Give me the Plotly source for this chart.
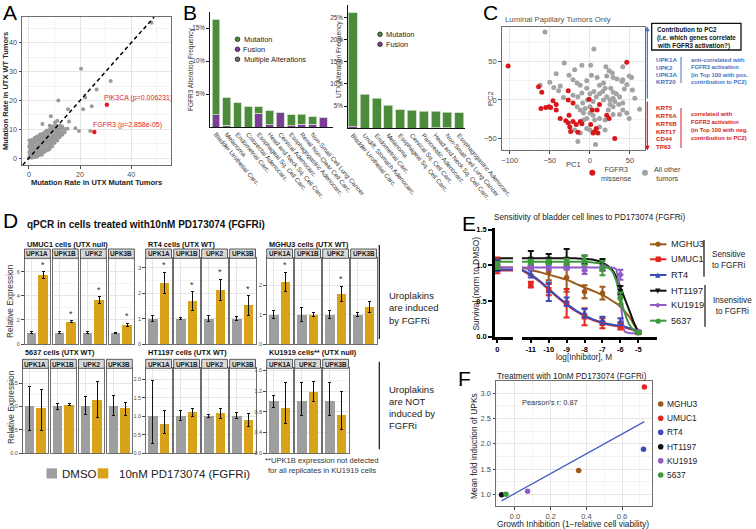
import numpy as np
import plotly.graph_objects as go

W, H = 756, 529
FONT = "Liberation Sans, Arial, Helvetica, sans-serif"

# ======================= DATA =======================
# ---- A: mutation rate in UTX mutant vs UTX WT tumors ----
A_CLOUD_PTS = [
    (0.1, 0.2), (0.3, 1.1), (0.2, 2.0), (0.4, 3.2), (0.1, 4.1), (0.5, 5.0), (0.2, 6.1),
    (1.1, 0.1), (1.2, 1.2), (0.9, 2.1), (1.3, 3.0), (1.0, 4.2), (1.2, 5.1), (1.1, 6.3),
    (2.0, 0.3), (2.2, 1.0), (1.9, 2.2), (2.1, 3.1), (2.3, 4.0), (1.8, 5.2), (2.0, 6.1), (2.2, 7.0),
    (3.1, 0.5), (2.9, 1.6), (3.2, 2.4), (3.0, 3.5), (3.3, 4.6), (2.8, 5.4), (3.1, 6.6), (3.0, 7.4),
    (4.0, 1.0), (4.2, 2.1), (3.9, 3.0), (4.1, 4.1), (4.3, 5.0), (3.8, 6.2), (4.0, 7.1), (4.2, 8.1),
    (5.1, 1.2), (4.9, 2.0), (5.2, 3.1), (5.0, 4.0), (5.3, 5.1), (4.8, 6.0), (5.1, 7.2), (5.0, 8.4),
    (6.0, 2.1), (6.2, 3.0), (5.9, 4.2), (6.1, 5.0), (6.3, 6.1), (5.8, 7.0), (6.0, 8.2), (6.1, 9.0),
    (7.1, 2.6), (6.9, 3.4), (7.2, 4.6), (7.0, 5.5), (7.3, 6.4), (6.8, 7.6), (7.1, 8.5), (7.0, 9.6),
    (8.0, 3.1), (8.2, 4.0), (7.9, 5.2), (8.1, 6.0), (8.3, 7.1), (7.8, 8.0), (8.0, 9.1), (8.2, 10.0), (8.1, 11.2),
    (9.1, 4.0), (8.9, 5.1), (9.2, 6.0), (9.0, 7.2), (9.3, 8.0), (8.8, 9.1), (9.1, 10.2), (9.0, 11.0),
    (10.0, 5.2), (10.2, 6.0), (9.9, 7.1), (10.1, 8.0), (10.3, 9.2), (9.8, 10.0), (10.0, 11.1), (10.2, 12.4),
    (11.1, 6.1), (10.9, 7.0), (11.2, 8.2), (11.0, 9.0), (11.3, 10.1), (10.9, 11.2), (11.1, 13.0),
    (12.0, 7.2), (12.2, 8.0), (11.9, 9.1), (12.1, 10.0), (12.3, 11.2),
    (13.1, 8.1), (12.9, 9.0), (13.2, 10.2), (13.0, 11.0),
    (14.0, 9.0), (14.2, 10.1),
    (15.1, 10.2),
]
A_OTHER_X = [48, 20.4, 32, 26.5, 11.5, 24.6, 22, 21.2, 15.3, 15.7, 18.2, 19.6, 24, 8.6, 5.3]
A_OTHER_Y = [47, 31, 26.8, 23.8, 20, 18, 21, 17, 17, 12.7, 10.4, 9.4, 9.4, 14.5, 11.8]
A_HIGHLIGHT_GENES = ["PIK3CA", "FGFR3"]
A_HIGHLIGHT_P = ["0.006231", "2.858e-05"]
A_HIGHLIGHT_X = [30.5, 25.6]
A_HIGHLIGHT_Y = [18.5, 9.1]

# ---- B: alteration frequencies ----
B_FGFR3_CATS = ["Bladder Urothelial Carc.", "Melanoma", "Endometrial Carc.", "Colorectal Adenocarc.",
                "Esophageal Sq. Cell Carc.", "Head and Neck Sq. Cell Carc.", "Cervical Adenocarc.",
                "Esophagogastric Adenocarc.", "Renal Non-Clear Cell Carc.", "Non-Small Cell Lung Cancer", " "]
B_FGFR3_MUT = [14.4, 4.2, 3.7, 3.1, 1.0, 2.15, 0.0, 1.7, 1.47, 1.1, 0.0]
B_FGFR3_FUS = [1.9, 0.0, 0.0, 0.0, 2.1, 0.35, 2.2, 0.2, 0.5, 0.5, 1.5]
B_FGFR3_MULTI = [0.0, 0.3, 0.0, 0.0, 0.0, 0.0, 0.0, 0.0, 0.0, 0.0, 0.0]
B_UTX_CATS = ["Bladder Urothelial Carc.", "Undiff. Stomach Adenocarc.", "Endometrial Carc.", "Melanoma",
              "Esophageal Sq. Cell Carc.", "Cervical Sq. Cell Carc.", "Pancreatic Adenocarc.",
              "Head and Neck Sq. Cell Carc.", "Non-Small Cell Lung Cancer", "Esophagogastric Adenocarc."]
B_UTX_MUT = [25.8, 7.65, 6.75, 5.2, 4.2, 4.05, 3.9, 3.65, 3.45, 3.55]
B_UTX_FUS = [0.3, 0.0, 0.0, 0.0, 0.0, 0.0, 0.0, 0.15, 0.15, 0.0]
B_LEGEND_FGFR3 = ["Mutation", "Fusion", "Multiple Alterations"]
B_LEGEND_UTX = ["Mutation", "Fusion"]

# ---- C: PCA of luminal papillary tumors ----
C_FGFR3_MISSENSE = [(-102, 44), (46, 49), (-64, 17), (-60, 10), (-27, 12), (-49, -10), (-46, -1), (-61, -11),
                    (-55, -10), (-51, -9), (-42, -13), (-42, -6), (-27, 0), (-21, -4), (-26, -20), (-1, 1),
                    (3, -13), (12, -6), (9, -13), (-30, -27), (-27, -30), (-25, -35), (-21, -28), (-17, -32),
                    (-12, -28), (-10, -31), (-24, -41), (-15, -42), (4, -43), (8, -37), (10, -43), (6, -41),
                    (21, -20), (24, -24), (31, -50), (1, -32), (-37, -24)]
C_OTHER = [(-56, 88), (5, 66), (-32, 48), (-10, 45), (1, 45), (-19, 39), (-42, 34), (-26, 32), (-62, 19),
           (-50, 23), (-45, 16), (-39, 12), (-37, 18), (-21, 26), (-16, 22), (-12, 19), (-4, 25), (2, 32),
           (9, 29), (12, 19), (17, 22), (21, 31), (20, 43), (24, 38), (29, 29), (34, 27), (40, 24), (43, 14),
           (52, 29), (49, 31), (41, 26), (46, 20), (53, 13), (56, 2), (62, -12), (41, -4), (37, 4), (33, 8),
           (29, 2), (25, 0), (21, 4), (17, 0), (31, -2), (36, -6), (41, -13), (46, -17), (49, -24), (37, -19),
           (29, -19), (23, -13), (19, -26), (12, -24), (4, -20), (6, -26), (0, -17), (-4, -24), (-8, -17),
           (-6, -11), (-12, -13), (-16, -9), (-9, -4), (-3, 0), (4, -2), (8, 4), (5, 11), (0, 8), (12, 8),
           (16, 11), (19, 15), (26, 15), (29, 10), (-4, 15), (-10, 9), (-15, 4), (-21, 6), (-33, 3), (-15, -54),
           (7, -58), (-4, -37), (-8, -26), (0, -39), (19, -39), (12, -35), (-12, -43), (-19, -39), (29, -9),
           (25, -6), (0, -9), (41, 43), (28, 35)]
C_GROUPS = ["FGFR3<br>missense", "All other<br>tumors"]
C_UP_GENES = ["UPK1A", "UPK2", "UPK3A", "KRT20"]
C_DOWN_GENES = ["KRT5", "KRT6A", "KRT6B", "KRT17", "CD44", "TP63"]

# ---- D: qPCR ----
D_GENES = ["UPK1A", "UPK1B", "UPK2", "UPK3B"]
D_GENES_KU1919 = ["UPK1A", "UPK2", "UPK3B"]
D_CONDITIONS = ["DMSO", "10nM PD173074 (FGFRi)"]
UMUC1_DMSO = [0.95, 0.95, 0.95, 0.95]
UMUC1_DMSO_ERR = [0.06, 0.05, 0.05, 0.04]
UMUC1_FGFRI = [5.7, 1.85, 3.65, 1.6]
UMUC1_FGFRI_ERR = [0.28, 0.08, 0.28, 0.13]
UMUC1_SIG = [True, True, True, True]
RT4_DMSO = [1.0, 1.0, 1.0, 1.0]
RT4_DMSO_ERR = [0.12, 0.03, 0.12, 0.08]
RT4_FGFRI = [2.4, 1.68, 2.12, 1.52]
RT4_FGFRI_ERR = [0.42, 0.37, 0.42, 0.38]
RT4_SIG = [True, True, True, True]
MGHU3_DMSO = [1.0, 1.0, 1.0, 1.0]
MGHU3_DMSO_ERR = [0.13, 0.23, 0.14, 0.08]
MGHU3_FGFRI = [2.12, 1.0, 1.7, 1.25]
MGHU3_FGFRI_ERR = [0.32, 0.06, 0.26, 0.19]
MGHU3_SIG = [True, False, True, False]
C5637_DMSO = [1.0, 1.0, 1.0, 1.0]
C5637_DMSO_UP = [0.43, 0.07, 0.22, 0.23]
C5637_DMSO_DN = [0.51, 0.07, 0.18, 0.20]
C5637_FGFRI = [0.96, 1.04, 1.14, 0.97]
C5637_FGFRI_UP = [0.40, 0.02, 0.40, 0.12]
C5637_FGFRI_DN = [0.48, 0.02, 0.37, 0.17]
HT1197_DMSO = [1.0, 1.0, 1.0, 1.0]
HT1197_DMSO_UP = [0.96, 0.16, 0.04, 0.09]
HT1197_DMSO_DN = [0.75, 0.12, 0.03, 0.07]
HT1197_FGFRI = [0.80, 1.11, 1.09, 0.89]
HT1197_FGFRI_UP = [0.35, 0.11, 0.13, 0.18]
HT1197_FGFRI_DN = [0.26, 0.13, 0.14, 0.18]
KU1919_DMSO = [1.0, 1.0, 1.0]
KU1919_DMSO_UP = [0.12, 0.36, 0.36]
KU1919_DMSO_DN = [0.11, 0.28, 0.28]
KU1919_FGFRI = [0.88, 1.18, 0.73]
KU1919_FGFRI_UP = [0.49, 0.21, 0.47]
KU1919_FGFRI_DN = [0.31, 0.18, 0.28]

# ---- E: dose response ----
E_LINES = ["MGHU3", "UMUC1", "RT4", "HT1197", "KU1919", "5637"]
E_DOSES = [-11, -10, -9, -8, -7, -6, -5]
E_MGHU3 = [0.96, 0.91, 0.83, 0.63, 0.61, 0.54, 0.06]
E_MGHU3_ERR = [0.10, 0.12, 0.20, 0.09, 0.09, 0.08, 0.02]
E_UMUC1 = [0.73, 0.66, 0.47, 0.28, 0.19, 0.15, 0.06]
E_UMUC1_ERR = [0.04, 0.08, 0.20, 0.12, 0.07, 0.05, 0.02]
E_RT4 = [0.88, 0.63, 0.49, 0.33, 0.23, 0.21, 0.06]
E_RT4_ERR = [0.05, 0.13, 0.06, 0.06, 0.05, 0.05, 0.02]
E_HT1197 = [1.10, 1.10, 1.10, 1.08, 1.01, 0.65, 0.06]
E_HT1197_ERR = [0.10, 0.06, 0.13, 0.06, 0.08, 0.06, 0.02]
E_KU1919 = [0.97, 0.97, 0.97, 0.93, 0.97, 0.87, 0.07]
E_KU1919_ERR = [0.03, 0.03, 0.03, 0.05, 0.03, 0.07, 0.02]
E_5637 = [1.05, 1.05, 1.05, 1.07, 0.96, 0.54, 0.06]
E_5637_ERR = [0.03, 0.03, 0.04, 0.06, 0.10, 0.08, 0.02]
E_DMSO = [1.0, 1.0, 1.0, 1.0, 1.0, 1.0]
E_DMSO_ERR = [0.08, 0.11, 0.08, 0.06, 0.05, 0.05]
E_CURVE_X = [-11.5, -11, -10.5, -10, -9.5, -9, -8.5, -8, -7.5, -7, -6.5, -6.25, -6, -5.75, -5.5, -5.25, -5]
E_CURVE_MGHU3 = [0.97, 0.94, 0.905, 0.87, 0.835, 0.80, 0.745, 0.69, 0.64, 0.585, 0.51, 0.47, 0.42, 0.35, 0.28, 0.17, 0.07]
E_CURVE_UMUC1 = [0.93, 0.86, 0.77, 0.66, 0.55, 0.45, 0.36, 0.29, 0.23, 0.19, 0.16, 0.15, 0.14, 0.13, 0.11, 0.09, 0.07]
E_CURVE_RT4 = [0.94, 0.87, 0.78, 0.67, 0.56, 0.46, 0.37, 0.30, 0.24, 0.20, 0.17, 0.16, 0.15, 0.14, 0.12, 0.10, 0.08]
E_CURVE_HT1197 = [1.10, 1.10, 1.10, 1.10, 1.10, 1.10, 1.10, 1.09, 1.08, 1.04, 0.95, 0.85, 0.70, 0.53, 0.37, 0.20, 0.07]
E_CURVE_KU1919 = [0.97, 0.97, 0.97, 0.97, 0.97, 0.97, 0.97, 0.97, 0.97, 0.97, 0.97, 0.95, 0.55, 0.07, 0.05, 0.05, 0.05]
E_CURVE_5637 = [1.05, 1.05, 1.05, 1.05, 1.05, 1.05, 1.05, 1.05, 1.04, 1.02, 0.93, 0.80, 0.55, 0.33, 0.17, 0.09, 0.06]
E_GROUPS = ["Sensitive<br>to FGFRi", "Insensitive<br>to FGFRi"]

# ---- F: correlation ----
F_LINES = ["MGHU3", "UMUC1", "RT4", "HT1197", "KU1919", "5637"]
F_GROWTH_INHIBITION = [0.357, 0.725, 0.72, -0.075, 0.071, -0.05]
F_UPK_INDUCTION = [1.47, 3.12, 1.89, 0.99, 1.06, 1.0]

# ======================= STYLE =======================
GREEN, PURPLE, MULTI = "#4b8b3b", "#7b3d96", "#6b6b6b"
GRAY_PT, RED_PT = "#a3a3a3", "#d7191c"
BLUE_TXT, RED_TXT = "#4472c4", "#d7191c"
DMSO_C, FGFRI_C = "#9e9e9e", "#d9a21b"
LINE_COLORS = ["#9b5a1a", "#e3261e", "#3b4bb8", "#111111", "#8e5bc7", "#3c9a3c"]
E_SYMBOLS = ["circle", "square", "triangle-up", "triangle-down", "diamond", "circle"]
E_GLYPHS = ["\u25CF", "\u25A0", "\u25B2", "\u25BC", "\u25C6", "\u25CF"]

fig = go.Figure()
layout = {}
annotations = []
shapes = []
cnt = {"x": 0, "y": 0}


def key_of(ref):
    return ref[0] + "axis" + ref[1:]


def new_axis(kind, p0, p1, **kw):
    cnt[kind] += 1
    n = cnt[kind]
    ref = kind + ("" if n == 1 else str(n))
    dom = [p0 / W, p1 / W] if kind == "x" else [1 - p1 / H, 1 - p0 / H]
    d = dict(domain=dom, automargin=False, zeroline=False)
    d.update(kw)
    layout[key_of(ref)] = d
    return ref


def pair(x0, x1, y0, y1, xkw, ykw):
    xr = new_axis("x", x0, x1, **xkw)
    yr = new_axis("y", y0, y1, **ykw)
    layout[key_of(xr)]["anchor"] = yr
    layout[key_of(yr)]["anchor"] = xr
    return xr, yr


def bw(rng, tickvals, ticktext=None, minor=None, labels=True, size=7.5, ticks=True):
    d = dict(range=rng, tickmode="array", tickvals=tickvals, showgrid=True, gridcolor="#e6e6e6",
             gridwidth=0.8, showline=True, mirror=True, linecolor="#6e6e6e", linewidth=1,
             ticks="outside" if ticks else "", ticklen=2.5, tickcolor="#444", tickwidth=0.8,
             showticklabels=labels, tickfont=dict(family=FONT, size=size, color="#4d4d4d"))
    if ticktext is not None:
        d["ticktext"] = ticktext
    if minor is not None:
        d["minor"] = dict(tickmode="array", tickvals=minor, showgrid=True, gridcolor="#f3f3f3",
                          gridwidth=0.6, ticks="")
    return d


def text(s, x, y, size=8, color="#000", xa="left", ya="middle", angle=0, bold=False, family=FONT):
    annotations.append(dict(text=("<b>%s</b>" % s) if bold else s, x=x / W, y=1 - y / H,
                            xref="paper", yref="paper", xanchor=xa, yanchor=ya, showarrow=False,
                            textangle=angle, font=dict(family=family, size=size, color=color)))


def lines_text(items, x, y0, dy, **kw):
    for i, s in enumerate(items):
        text(s, x, y0 + i * dy, **kw)


def seg(x0, y0, x1, y1, color="#000", width=1, dash=None):
    shapes.append(dict(type="line", xref="paper", yref="paper", x0=x0 / W, y0=1 - y0 / H,
                       x1=x1 / W, y1=1 - y1 / H, line=dict(color=color, width=width, dash=dash)))


def rect(x0, y0, x1, y1, fill, line="rgba(0,0,0,0)", lw=0):
    shapes.append(dict(type="rect", xref="paper", yref="paper", x0=x0 / W, y0=1 - y1 / H,
                       x1=x1 / W, y1=1 - y0 / H, fillcolor=fill, line=dict(color=line, width=lw)))


def dot(cx, cy, r, fill, line="rgba(0,0,0,0)", lw=0):
    shapes.append(dict(type="circle", xref="paper", yref="paper", x0=(cx - r) / W, x1=(cx + r) / W,
                       y0=1 - (cy + r) / H, y1=1 - (cy - r) / H, fillcolor=fill,
                       line=dict(color=line, width=lw)))


# ======================= PANEL A =======================
A_XR, A_YR = [-2.7, 55.6], [-2.4, 49]
xa, ya = pair(22, 171, 17, 165,
              bw(A_XR, [0, 20, 40], minor=[10, 30, 50], size=7.2),
              bw(A_YR, [0, 10, 20, 30, 40], minor=[5, 15, 25, 35, 45], size=7.2))
cloud_x = [p[0] for p in A_CLOUD_PTS]
cloud_y = [p[1] for p in A_CLOUD_PTS]
fig.add_trace(go.Scatter(x=cloud_x + A_OTHER_X, y=cloud_y + A_OTHER_Y, mode="markers",
                         marker=dict(color="#9a9a9a", size=4), xaxis=xa, yaxis=ya))
fig.add_trace(go.Scatter(x=A_HIGHLIGHT_X, y=A_HIGHLIGHT_Y, mode="markers",
                         marker=dict(color="#e41a1c", size=4.5), xaxis=xa, yaxis=ya))
lo, hi = max(A_XR[0], A_YR[0]), min(A_XR[1], A_YR[1])
shapes.append(dict(type="line", xref=xa, yref=ya, x0=lo, y0=lo, x1=hi, y1=hi,
                   line=dict(color="#000", width=1.5, dash="4px,3px")))
for g, p, x, y, dx in zip(A_HIGHLIGHT_GENES, A_HIGHLIGHT_P, A_HIGHLIGHT_X, A_HIGHLIGHT_Y, [-5, -3]):
    annotations.append(dict(text="%s (p=%s)" % (g, p), x=x, y=y, xref=xa, yref=ya, showarrow=False,
                            xanchor="left", yanchor="middle", xshift=dx, yshift=7,
                            font=dict(family=FONT, size=7, color="#e41a1c")))
text("A", 1, 12.5, size=21)
text("Mutation Rate in UTX Mutant Tumors", 96, 183, size=7.5, xa="center", bold=True, color="#222")
text("Mutation Rate in UTX WT Tumors", 6, 91, size=7.5, xa="center", angle=-90, bold=True, color="#222")

# ======================= PANEL B =======================
def b_axes(x0, x1, y0, y1, cats, xr, yr, yt):
    xkw = dict(type="category", categoryorder="array", categoryarray=cats, range=xr, showline=True,
               linecolor="#111", linewidth=1, ticks="", tickangle=50, showgrid=False,
               tickfont=dict(family=FONT, size=6.3, color="#333"))
    ykw = dict(range=yr, tickmode="array", tickvals=yt, ticktext=["%d%%" % v for v in yt],
               showline=True, linecolor="#111", linewidth=1, ticks="outside", ticklen=3,
               tickcolor="#111", showgrid=False, tickfont=dict(family=FONT, size=6.3, color="#333"))
    return pair(x0, x1, y0, y1, xkw, ykw)


bl_x, bl_y = b_axes(210, 333, 11.7, 127.3, B_FGFR3_CATS, [-0.56, 10.9], [0, 17.5], [5, 10, 15])
for vals, col in [(B_FGFR3_MULTI, MULTI), (B_FGFR3_FUS, PURPLE), (B_FGFR3_MUT, GREEN)]:
    fig.add_trace(go.Bar(x=B_FGFR3_CATS, y=vals, marker=dict(color=col, line=dict(color="#c5dcbf", width=0.8)),
                         width=0.74, xaxis=bl_x, yaxis=bl_y))
br_x, br_y = b_axes(348, 465, 5, 128.3, B_UTX_CATS, [-0.42, 9.5], [0, 27.8], [5, 10, 15, 20, 25])
for vals, col in [(B_UTX_FUS, PURPLE), (B_UTX_MUT, GREEN)]:
    fig.add_trace(go.Bar(x=B_UTX_CATS, y=vals, marker=dict(color=col, line=dict(color="#c5dcbf", width=0.8)),
                         width=0.76, xaxis=br_x, yaxis=br_y))
text("B", 181, 12.5, size=21)
text("FGFR3 Alteration Frequency", 191, 70, size=6.5, xa="center", angle=-90, color="#333")
text("UTX Alteration Frequency", 339, 60, size=6.7, xa="center", angle=-90, color="#333")
for i, (lab, col) in enumerate(zip(B_LEGEND_FGFR3, [GREEN, PURPLE, MULTI])):
    dot(237.5, 39.3 + 10 * i, 2.3, col, "#222", 0.8)
    text(lab, 241.5, 39.3 + 10 * i, size=7.4, color="#222")
for i, (lab, col) in enumerate(zip(B_LEGEND_UTX, [GREEN, PURPLE])):
    dot(380, 34.3 + 10 * i, 2.3, col, "#222", 0.8)
    text(lab, 384, 34.3 + 10 * i, size=7.4, color="#222")

# ======================= PANEL C =======================
cx, cy = pair(501.7, 645, 26.7, 150,
              bw([-110, 68.75], [-100, -50, 0, 50], minor=[-75, -25, 25]),
              bw([-65, 95], [-50, 0, 50], minor=[-25, 25, 75]))
fig.add_trace(go.Scatter(x=[p[0] for p in C_OTHER], y=[p[1] for p in C_OTHER], mode="markers",
                         marker=dict(color=GRAY_PT, size=5), xaxis=cx, yaxis=cy))
fig.add_trace(go.Scatter(x=[p[0] for p in C_FGFR3_MISSENSE], y=[p[1] for p in C_FGFR3_MISSENSE],
                         mode="markers", marker=dict(color=RED_PT, size=5), xaxis=cx, yaxis=cy))
text("C", 481, 12.5, size=21)
text("Luminal Papillary Tumors Only", 503, 19.5, size=7.8, color="#555")
text("PC1", 573, 164, size=7.6, xa="center", color="#444")
text("PC2", 490, 99, size=7.6, xa="center", angle=-90, color="#444")
dot(592.3, 172.7, 3, RED_PT)
text(C_GROUPS[0], 599, 174, size=7.2, color="#444")
dot(645, 172.7, 3, GRAY_PT)
text(C_GROUPS[1], 652, 174, size=7.2, color="#444")
rect(651.7, 23.3, 741, 50, "rgba(0,0,0,0)", "#111", 1.3)
lines_text(["Contribution to PC2", "(i.e. which genes correlate", "with FGFR3 activation?)"],
           655, 29.3, 8.2, size=6.3, bold=True, color="#111")
annotations.append(dict(x=647.3 / W, y=1 - 26.5 / H, xref="paper", yref="paper", text="", showarrow=True,
                        ax=0, ay=73.5, arrowhead=2, arrowsize=0.8, arrowwidth=1.2, arrowcolor=BLUE_TXT))
annotations.append(dict(x=647.3 / W, y=1 - 150.5 / H, xref="paper", yref="paper", text="", showarrow=True,
                        ax=0, ay=-50.5, arrowhead=2, arrowsize=0.8, arrowwidth=1.2, arrowcolor=RED_TXT))
lines_text(C_UP_GENES, 653.5, 60, 7.1, size=6.2, bold=True, color=BLUE_TXT)
seg(681, 57, 681, 83, BLUE_TXT, 1)
lines_text(["anti-correlated with", "FGFR3 activation", "(in Top 100 with pos.", "contribution to PC2)"],
           688.5, 60, 7.4, size=5.8, bold=True, color=BLUE_TXT)
lines_text(C_DOWN_GENES, 653.5, 107.3, 7.9, size=6.2, bold=True, color=RED_TXT)
seg(681, 108, 681, 148, RED_TXT, 1)
lines_text(["correlated with", "FGFR3 activation", "(in Top 100 with neg.", "contribution to PC2)"],
           688.5, 114.5, 7.7, size=5.8, bold=True, color=RED_TXT)

# ======================= PANEL D =======================
D_PANELS = [
    dict(title="UMUC1 cells (UTX null)", genes=D_GENES, d=UMUC1_DMSO, du=UMUC1_DMSO_ERR, dd=UMUC1_DMSO_ERR,
         f=UMUC1_FGFRI, fu=UMUC1_FGFRI_ERR, fd=UMUC1_FGFRI_ERR, sig=UMUC1_SIG,
         yr=[0, 7.1], yt=[0, 2, 4, 6], ytt=["0", "2", "4", "6"], ym=[1, 3, 5, 7], x0=24.5, row=0),
    dict(title="RT4 cells (UTX WT)", genes=D_GENES, d=RT4_DMSO, du=RT4_DMSO_ERR, dd=RT4_DMSO_ERR,
         f=RT4_FGFRI, fu=RT4_FGFRI_ERR, fd=RT4_FGFRI_ERR, sig=RT4_SIG,
         yr=[0, 3.37], yt=[0, 1, 2, 3], ytt=["0", "1", "2", "3"], ym=[0.5, 1.5, 2.5], x0=145.7, row=0),
    dict(title="MGHU3 cells (UTX WT)", genes=D_GENES, d=MGHU3_DMSO, du=MGHU3_DMSO_ERR, dd=MGHU3_DMSO_ERR,
         f=MGHU3_FGFRI, fu=MGHU3_FGFRI_ERR, fd=MGHU3_FGFRI_ERR, sig=MGHU3_SIG,
         yr=[0, 2.92], yt=[0, 1, 2], ytt=["0", "1", "2"], ym=[0.5, 1.5, 2.5], x0=266.7, row=0),
    dict(title="5637 cells (UTX WT)", genes=D_GENES, d=C5637_DMSO, du=C5637_DMSO_UP, dd=C5637_DMSO_DN,
         f=C5637_FGFRI, fu=C5637_FGFRI_UP, fd=C5637_FGFRI_DN, sig=[False] * 4,
         yr=[0, 1.82], yt=[0, 0.5, 1, 1.5], ytt=["0.0", "0.5", "1.0", "1.5"], ym=[0.25, 0.75, 1.25, 1.75],
         x0=22.5, row=1),
    dict(title="HT1197 cells (UTX WT)", genes=D_GENES, d=HT1197_DMSO, du=HT1197_DMSO_UP, dd=HT1197_DMSO_DN,
         f=HT1197_FGFRI, fu=HT1197_FGFRI_UP, fd=HT1197_FGFRI_DN, sig=[False] * 4,
         yr=[0, 2.3], yt=[0, 0.5, 1, 1.5, 2], ytt=["0.0", "0.5", "1.0", "1.5", "2.0"],
         ym=[0.25, 0.75, 1.25, 1.75, 2.25], x0=145.7, row=1),
    dict(title="KU1919 cells** (UTX null)", genes=D_GENES_KU1919, d=KU1919_DMSO, du=KU1919_DMSO_UP,
         dd=KU1919_DMSO_DN, f=KU1919_FGFRI, fu=KU1919_FGFRI_UP, fd=KU1919_FGFRI_DN, sig=[False] * 3,
         yr=[0, 1.64], yt=[0, 0.4, 0.8, 1.2, 1.6], ytt=["0.0", "0.4", "0.8", "1.2", "1.6"],
         ym=[0.2, 0.6, 1.0, 1.4], x0=266.7, row=1),
]
ROWS = [dict(title_y=244.3, strip0=249, top=258.3, bottom=344),
        dict(title_y=352.7, strip0=359.3, top=368.3, bottom=453)]
cats = ["DMSO", "FGFRi"]
for P in D_PANELS:
    R = ROWS[P["row"]]
    text(P["title"], P["x0"], R["title_y"], size=7.3, bold=True, color="#111")
    for i, g in enumerate(P["genes"]):
        x0 = P["x0"] + 28.0 * i
        x1 = x0 + 25.8
        xkw = dict(type="category", categoryorder="array", categoryarray=cats, range=[-0.6, 1.6],
                   showticklabels=False, ticks="", showgrid=True, gridcolor="#e6e6e6", gridwidth=0.8,
                   showline=True, mirror=True, linecolor="#6e6e6e", linewidth=1)
        ykw = bw(P["yr"], P["yt"], P["ytt"], minor=P["ym"], labels=(i == 0), size=5.5, ticks=(i == 0))
        dx, dy = pair(x0, x1, R["top"], R["bottom"], xkw, ykw)
        fig.add_trace(go.Bar(x=cats, y=[P["d"][i], P["f"][i]], marker=dict(color=[DMSO_C, FGFRI_C]),
                             width=0.82, xaxis=dx, yaxis=dy,
                             error_y=dict(type="data", symmetric=False, array=[P["du"][i], P["fu"][i]],
                                          arrayminus=[P["dd"][i], P["fd"][i]], color="#111",
                                          thickness=1, width=1.5)))
        if P["sig"][i]:
            annotations.append(dict(text="*", x="FGFRi", y=P["f"][i] + P["fu"][i], xref=dx, yref=dy,
                                    showarrow=False, yanchor="bottom", yshift=0,
                                    font=dict(family=FONT, size=9, color="#333")))
        rect(x0, R["strip0"], x1, R["top"], "#d9d9d9", "#333", 0.8)
        text(g, (x0 + x1) / 2, (R["strip0"] + R["top"]) / 2 + 0.3, size=6.4, xa="center", bold=True,
             color="#1a1a1a")

text("D", 1, 220, size=21)
text("qPCR in cells treated with10nM PD173074 (FGFRi)", 25, 224.5, size=10, bold=True, color="#111")
text("Relative Expression", 10, 301, size=8.3, xa="center", angle=-90, color="#333")
text("Relative Expression", 11, 407, size=8.3, xa="center", angle=-90, color="#333")
seg(379.3, 245, 379.3, 339, "#111", 1.2)
lines_text(["Uroplakins", "are induced", "by FGFRi"], 386.5, 295, 12.5, size=9.5, color="#222")
seg(379.3, 361.7, 379.3, 449.3, "#111", 1.2)
lines_text(["Uroplakins", "are NOT", "induced by", "FGFRi"], 386.5, 389.3, 12, size=9.5, color="#222")
lines_text(["**UPK1B expression not detected", "for all replicates in KU1919 cells"], 322, 460, 10,
           size=7.6, xa="center", color="#333")
rect(46.5, 468.3, 57, 478.5, DMSO_C)
text(D_CONDITIONS[0], 60, 473.5, size=11.5, color="#222")
rect(97.7, 468.3, 108.3, 478.5, FGFRI_C)
text(D_CONDITIONS[1], 117, 473.5, size=11.5, color="#222")

# ======================= PANEL E =======================
XE1_RANGE = [-0.3, 2.0]
axis_e = dict(showline=True, linecolor="#000", linewidth=2.5, ticks="outside", ticklen=4, tickwidth=2,
              tickcolor="#000", showgrid=False, tickfont=dict(family=FONT, size=7.5, color="#000"))
ex1 = new_axis("x", 495, 513, range=XE1_RANGE, tickmode="array", tickvals=[0], ticktext=["<b>0</b>"], **axis_e)
ey = new_axis("y", 228.3, 336.7, range=[0, 1.52], tickmode="array", tickvals=[0, 0.5, 1.0, 1.5],
              ticktext=["<b>0.0</b>", "<b>0.5</b>", "<b>1.0</b>", "<b>1.5</b>"], **axis_e)
ex2 = new_axis("x", 521.7, 656.7, range=[-11.51, -3.97], tickmode="array", tickvals=E_DOSES,
               ticktext=["<b>%d</b>" % v for v in E_DOSES], **axis_e)
layout[key_of(ex1)]["anchor"] = ey
layout[key_of(ey)]["anchor"] = ex1
layout[key_of(ex2)]["anchor"] = ey

E_POINTS = [E_MGHU3, E_UMUC1, E_RT4, E_HT1197, E_KU1919, E_5637]
E_ERRS = [E_MGHU3_ERR, E_UMUC1_ERR, E_RT4_ERR, E_HT1197_ERR, E_KU1919_ERR, E_5637_ERR]
E_CURVES = [E_CURVE_MGHU3, E_CURVE_UMUC1, E_CURVE_RT4, E_CURVE_HT1197, E_CURVE_KU1919, E_CURVE_5637]
for k in range(len(E_LINES)):
    col = LINE_COLORS[k]
    fig.add_trace(go.Scatter(x=E_CURVE_X, y=E_CURVES[k], mode="lines",
                             line=dict(color=col, width=2, shape="spline", smoothing=0.6),
                             xaxis=ex2, yaxis=ey))
    fig.add_trace(go.Scatter(x=XE1_RANGE, y=[E_CURVES[k][0]] * 2, mode="lines",
                             line=dict(color=col, width=2), xaxis=ex1, yaxis=ey))
for k in range(len(E_LINES)):
    col = LINE_COLORS[k]
    fig.add_trace(go.Scatter(x=E_DOSES, y=E_POINTS[k], mode="markers",
                             marker=dict(color=col, size=5.5, symbol=E_SYMBOLS[k]),
                             error_y=dict(type="data", array=E_ERRS[k], color=col, thickness=2, width=3),
                             xaxis=ex2, yaxis=ey))
    fig.add_trace(go.Scatter(x=[0], y=[E_DMSO[k]], mode="markers", cliponaxis=False,
                             marker=dict(color=col, size=5.5, symbol=E_SYMBOLS[k]),
                             error_y=dict(type="data", array=[E_DMSO_ERR[k]], color=col, thickness=2, width=3),
                             xaxis=ex1, yaxis=ey))
text("E", 460, 223, size=21)
text("Sensitivity of bladder cell lines to PD173074 (FGFRi)", 491.5, 217.7, size=8.2, color="#222")
text("Survival (norm to DMSO)", 475.5, 284, size=8.4, xa="center", angle=-90, color="#222")
text("log[Inhibitor], M", 584, 357.5, size=8.2, xa="center", color="#222")
E_ROWS_Y = [244.3, 259.3, 275, 290.7, 305, 320.7]
for k, name in enumerate(E_LINES):
    yy = E_ROWS_Y[k]
    seg(650, yy, 666.5, yy, LINE_COLORS[k], 2)
    text(E_GLYPHS[k], 658.3, yy, size=7, xa="center", color=LINE_COLORS[k], family="DejaVu Sans")
    text(name, 668.5, yy, size=9.2, color="#222")
seg(704, 240, 704, 276.7, "#111", 1.2)
text(E_GROUPS[0], 710, 260.5, size=8.2, color="#222")
seg(705, 285, 705, 326.7, "#111", 1.2)
text(E_GROUPS[1], 711, 306, size=8.2, color="#222")

# ======================= PANEL F =======================
fx, fy = pair(496, 651.7, 381, 506,
              bw([-0.106, 0.766], [0, 0.2, 0.4, 0.6], ["0.0", "0.2", "0.4", "0.6"], minor=[-0.1, 0.1, 0.3, 0.5, 0.7]),
              bw([0.77, 3.24], [1.0, 1.5, 2.0, 2.5, 3.0], ["1.0", "1.5", "2.0", "2.5", "3.0"],
                 minor=[1.25, 1.75, 2.25, 2.75]))
slope, icpt = np.polyfit(F_GROWTH_INHIBITION, F_UPK_INDUCTION, 1)
xs = [min(F_GROWTH_INHIBITION), max(F_GROWTH_INHIBITION)]
fig.add_trace(go.Scatter(x=xs, y=[slope * v + icpt for v in xs], mode="lines",
                         line=dict(color="#4a5fc1", width=1.3), xaxis=fx, yaxis=fy))
fig.add_trace(go.Scatter(x=F_GROWTH_INHIBITION, y=F_UPK_INDUCTION, mode="markers",
                         marker=dict(color=LINE_COLORS, size=5.5), xaxis=fx, yaxis=fy))
r = np.corrcoef(F_GROWTH_INHIBITION, F_UPK_INDUCTION)[0, 1]
text("F", 456, 378, size=21)
text("Treatment with 10nM PD173074 (FGFRi)", 495, 376, size=8.2, color="#222")
text("Pearson's r: %.2f" % r, 519.5, 402.7, size=7.4, color="#333")
text("Mean fold induction of UPKs", 474, 446, size=8.4, xa="center", angle=-90, color="#222")
text("Growth Inhibition (1\u2212relative cell viability)", 573, 523.5, size=8.4, xa="center", color="#222")
F_ROWS_Y = [404, 418.3, 432.3, 446.7, 460.7, 475]
for k, name in enumerate(F_LINES):
    dot(660.7, F_ROWS_Y[k], 2.8, LINE_COLORS[k])
    text(name, 664.5, F_ROWS_Y[k], size=8.4, color="#222")

# ======================= LAYOUT =======================
layout.update(dict(width=W, height=H, margin=dict(l=0, r=0, t=0, b=0), template="none",
                   paper_bgcolor="white", plot_bgcolor="white", showlegend=False, barmode="stack",
                   hovermode=False, font=dict(family=FONT, size=8, color="#222"),
                   annotations=annotations, shapes=shapes))
fig.update_layout(**layout)
fig.write_html("out.html", config={"displayModeBar": False},
               post_script="document.body.style.margin='0';document.body.style.overflow='hidden';")
